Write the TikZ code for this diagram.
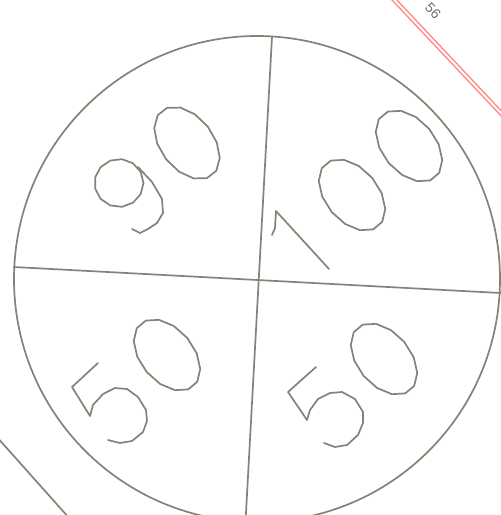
\documentclass[tikz,border=0pt]{standalone}
\usepackage{fontspec}
\setmainfont{Liberation Sans}
\definecolor{stroke}{RGB}{133,130,118}
\definecolor{redline}{RGB}{255,130,130}
\definecolor{labelgray}{RGB}{110,110,110}
\tikzset{
  pen/.style={draw=stroke, line width=1.7pt, line join=round, line cap=round},
  zero/.style={pen},
}
\newcommand{\zeroglyph}[2]{%
  \draw[zero, shift={#1}, rotate=#2] plot[domain=0:360, samples=15] ({26.5*cos(\x)},{41*sin(\x)}) -- cycle;}
\begin{document}
\begin{tikzpicture}[x=1pt,y=-1pt]
\useasboundingbox (0,0) rectangle (501,515);
\clip (0,0) rectangle (501,515);
\fill[white] (0,0) rectangle (501,515);
% circle and dividing lines
\coordinate (c) at (257,279);
\draw[pen] (c) circle[radius=243];
\coordinate (vt) at (272,37);
\coordinate (vb) at (245.5,522);
\coordinate (hl) at (14,267);
\coordinate (hr) at (500.5,293);
\draw[pen] (vt) -- (vb);
\draw[pen] (hl) -- (hr);
% stray line bottom-left
\coordinate (s1) at (-4,436);
\coordinate (s2) at (70,519);
\draw[pen] (s1) -- (s2);
% red double line top right
\coordinate (r1) at (385,-10);
\coordinate (r2) at (515,128);
\draw[redline, line width=1.4pt, double=white, double distance=2pt] (r1) -- (r2);
\node[text=labelgray, font=\fontsize{14}{15}\selectfont, rotate=-46, inner sep=0pt] (lbl) at (433,11) {56};
% "90"
\draw[pen] plot[domain=0:360, samples=14] ({119+24.5*cos(\x)},{183+24*sin(\x)}) -- cycle;
\draw[pen] (138,167) -- (152,182) -- (162,199) -- (163,213) -- (157,223) -- (148,229) -- (140,233) -- (132,229);
\zeroglyph{(187,143)}{38}
% "100"
\draw[pen] (272,235) -- (275,228) -- (276,211) -- (329,269);
\zeroglyph{(352,195)}{40}
\zeroglyph{(409,146)}{40}
% left "50"
\draw[pen] (98,363) -- (72,387) -- (90,416) -- (93,405) -- (103,394) -- (115,388) -- (127,389) -- (138,397) -- (146,410) -- (147,421) -- (143,432) -- (132,441) -- (120,443) -- (108,440);
\zeroglyph{(167,355)}{40}
% right "50"
\draw[pen] (316,367) -- (288,392) -- (307,420) -- (310,410) -- (318,399) -- (330,393) -- (342,392) -- (355,399) -- (363,412) -- (363,423) -- (358,435) -- (347,445) -- (335,447) -- (324,443);
\zeroglyph{(384,359)}{40}
\end{tikzpicture}
\end{document}
